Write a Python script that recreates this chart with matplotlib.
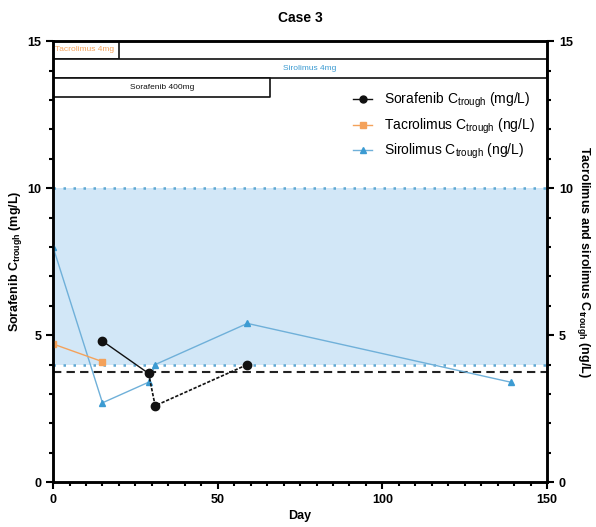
import matplotlib.pyplot as plt
from matplotlib.ticker import MultipleLocator

plt.rcParams['font.family'] = ['Liberation Sans', 'DejaVu Sans']

# values
sora_day = [15, 29, 31, 59]
sora_conc = [4.8, 3.7, 2.6, 4.0]
tacro_day = [0, 15]
tacro_conc = [4.7, 4.1]
siro_day = [0, 15, 29, 31, 59, 139]
siro_conc = [8.0, 2.7, 3.4, 4.0, 5.4, 3.4]

target_low, target_high = 4, 10
sora_threshold = 3.75

# dose bars
dose_labels = ["Tacrolimus 4mg", "Sirolimus 4mg", "Sorafenib 400mg"]
dose_start = [0, 0, 0]
dose_end = [20, 150, 66]
dose_bottom = [14.4, 13.75, 13.1]
dose_top = [15, 14.4, 13.75]

black = '#111111'
orange = '#F4A25B'
blue = '#3C9BD2'
blue_line = '#6FB0D9'

fig = plt.figure(figsize=(5.96, 5.27), dpi=100)
ax = fig.add_axes([0.089, 0.085, 0.829, 0.837])

ax.axhspan(target_low, target_high, color='#D2E7F7', zorder=0, lw=0)
ax.axhline(target_low, color='#5FA8D3', ls=(0, (1, 3)), lw=1.8, zorder=1)
ax.axhline(target_high, color='#5FA8D3', ls=(0, (1, 3)), lw=1.8, zorder=1)
ax.axhline(sora_threshold, color='#222222', ls=(0, (4, 2.5)), lw=1.5, zorder=1)

# dose rectangles
text_cols = [orange, blue, black]
for lab, x0, x1, y0, y1, tc in zip(dose_labels, dose_start, dose_end, dose_bottom, dose_top, text_cols):
    ax.fill_between([x0, x1], y0, y1, facecolor='white', edgecolor=black, lw=1.2, zorder=2)
    if lab.startswith("Tacro"):
        ax.text(x0 + 0.5, (y0 + y1) / 2, lab, color=tc, fontsize=6, va='center', ha='left', zorder=3)
    else:
        ax.text((x0 + x1) / 2 + (3 if lab.startswith("Siro") else 0), (y0 + y1) / 2, lab,
                color=tc, fontsize=6, va='center', ha='center', zorder=3)

# lines
ax.plot(siro_day, siro_conc, color=blue_line, lw=1, marker='^', ms=5, mfc=blue, mec=blue, zorder=4)
ax.plot(tacro_day, tacro_conc, color=orange, lw=1, marker='s', ms=5, mfc=orange, mec=orange, zorder=4)
ax.plot(sora_day[:2], sora_conc[:2], color=black, lw=1, zorder=5)
ax.plot(sora_day[1:], sora_conc[1:], color=black, lw=1.2, ls=(0, (2, 1)), zorder=5)
ax.plot(sora_day, sora_conc, ls='none', marker='o', ms=6, color=black, zorder=6)

# legend proxies
h_sora, = ax.plot([], [], color=black, lw=1, marker='o', ms=5)
h_tac, = ax.plot([], [], color=orange, lw=1, marker='s', ms=5)
h_siro, = ax.plot([], [], color=blue_line, lw=1, marker='^', ms=5, mfc=blue, mec=blue)
ax.legend([h_sora, h_tac, h_siro],
          [r'Sorafenib C$_{\mathregular{trough}}$ (mg/L)',
           r'Tacrolimus C$_{\mathregular{trough}}$ (ng/L)',
           r'Sirolimus C$_{\mathregular{trough}}$ (ng/L)'],
          loc='upper right', bbox_to_anchor=(1.0, 0.915), frameon=False, fontsize=10,
          handlelength=1.4, handletextpad=0.8, labelspacing=0.45)

ax.set_xlim(0, 150)
ax.set_ylim(0, 15)
ax.xaxis.set_major_locator(MultipleLocator(50))
ax.xaxis.set_minor_locator(MultipleLocator(5))
ax.yaxis.set_major_locator(MultipleLocator(5))
ax.yaxis.set_minor_locator(MultipleLocator(1))
for s in ax.spines.values():
    s.set_linewidth(1.8)
ax.tick_params(which='major', length=5, width=1.5, labelsize=9)
ax.tick_params(which='minor', length=3, width=1.5)
for t in ax.get_xticklabels() + ax.get_yticklabels():
    t.set_fontweight('bold')

ax.set_xlabel('Day', fontsize=9, fontweight='bold', labelpad=3)
ax.set_ylabel(r'Sorafenib C$_{\mathregular{trough}}$ (mg/L)', fontsize=9, fontweight='bold', labelpad=2)
ax.set_title('Case 3', fontsize=10, fontweight='bold', pad=14)

ax2 = ax.twinx()
ax2.set_ylim(0, 15)
ax2.yaxis.set_major_locator(MultipleLocator(5))
ax2.yaxis.set_minor_locator(MultipleLocator(1))
ax2.tick_params(which='major', length=5, width=1.5, labelsize=9)
ax2.tick_params(which='minor', length=3, width=1.5)
for s in ax2.spines.values():
    s.set_linewidth(1.8)
for t in ax2.get_yticklabels():
    t.set_fontweight('bold')
ax2.set_ylabel(r'Tacrolimus and sirolimus C$_{\mathregular{trough}}$ (ng/L)', fontsize=9,
               fontweight='bold', rotation=-90, labelpad=14)

fig.savefig('out.png', dpi=100)
